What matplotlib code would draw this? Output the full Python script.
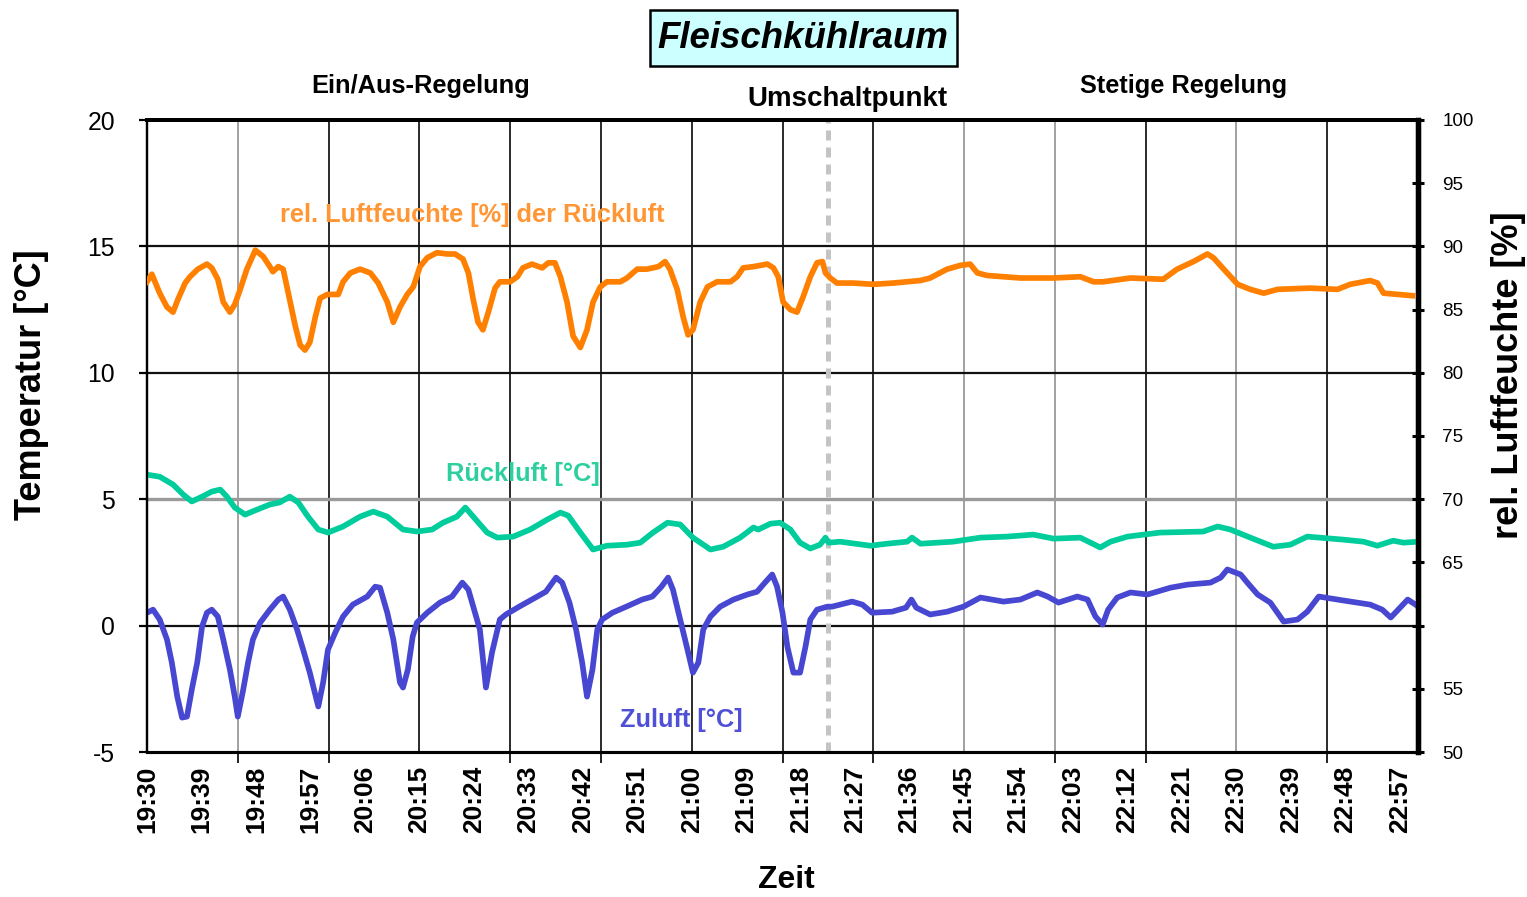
import matplotlib
matplotlib.use('Agg')
import matplotlib.pyplot as plt
from matplotlib import font_manager
from matplotlib.patches import Rectangle
from matplotlib.ticker import FixedLocator

# ---------------- data (minutes after 19:30) ----------------
time_labels = ['19:30', '19:39', '19:48', '19:57', '20:06', '20:15', '20:24', '20:33',
               '20:42', '20:51', '21:00', '21:09', '21:18', '21:27', '21:36', '21:45',
               '21:54', '22:03', '22:12', '22:21', '22:30', '22:39', '22:48', '22:57']

# relative humidity of return air [%]
rh_min = [0, 0.8, 2.1, 3.3, 4.3, 5.1, 6.3, 7.1, 8.4, 9.9,
          10.7, 11.7, 12.6, 13.7, 14.5, 15.4, 16.5, 17.9, 19.2, 20.3,
          20.8, 21.7, 22.5, 23.3, 24.5, 25.3, 26.1, 26.9, 27.8, 28.6,
          29.8, 31.6, 32.4, 33.6, 35.2, 36.9, 38.2, 39.7, 40.7, 41.8,
          43.0, 44.0, 45.1, 46.3, 47.9, 49.6, 50.9, 52.2, 53.1, 53.9,
          54.7, 55.5, 56.4, 57.5, 58.3, 60.0, 61.2, 62.1, 63.6, 65.3,
          66.3, 67.4, 68.3, 69.4, 70.4, 71.6, 72.7, 73.7, 74.9, 76.0,
          78.2, 79.3, 81.0, 82.6, 84.5, 85.6, 86.4, 87.6, 88.6, 89.4,
          90.2, 91.4, 92.6, 94.2, 96.4, 97.5, 98.5, 100.2, 102.5, 103.5,
          104.3, 105.1, 106.3, 107.4, 108.4, 109.6, 110.7, 111.6, 112.1, 112.9,
          114.0, 116.7, 120.0, 123.3, 127.8, 129.4, 132.2, 134.4, 136.0, 137.2,
          138.8, 144.3, 149.8, 154.2, 156.4, 158.0, 162.5, 167.9, 170.2, 172.9,
          175.2, 176.2, 177.9, 180.2, 182.3, 184.5, 186.8, 192.2, 196.7, 198.8,
          202.1, 203.3, 204.3, 206.6, 209.1]
rh_val = [87.2, 87.8, 86.3, 85.2, 84.8, 85.8, 87.1, 87.6, 88.2, 88.6,
          88.3, 87.4, 85.6, 84.8, 85.4, 86.6, 88.2, 89.7, 89.2, 88.4,
          88.0, 88.4, 88.2, 86.4, 83.7, 82.2, 81.8, 82.4, 84.4, 85.9,
          86.2, 86.2, 87.2, 87.9, 88.2, 87.9, 87.1, 85.6, 84.0, 85.2,
          86.2, 86.8, 88.4, 89.1, 89.5, 89.4, 89.4, 89.0, 87.9, 85.8,
          84.0, 83.4, 84.8, 86.7, 87.2, 87.2, 87.6, 88.3, 88.6, 88.3,
          88.7, 88.7, 87.6, 85.6, 82.9, 82.0, 83.4, 85.6, 86.8, 87.2,
          87.2, 87.5, 88.2, 88.2, 88.4, 88.8, 88.2, 86.6, 84.4, 83.0,
          83.4, 85.6, 86.8, 87.2, 87.2, 87.6, 88.3, 88.4, 88.6, 88.3,
          87.6, 85.6, 85.0, 84.8, 86.0, 87.6, 88.7, 88.8, 87.9, 87.5,
          87.1, 87.1, 87.0, 87.1, 87.3, 87.5, 88.2, 88.5, 88.6, 87.9,
          87.7, 87.5, 87.5, 87.6, 87.2, 87.2, 87.5, 87.4, 88.2, 88.8,
          89.4, 89.1, 88.2, 87.0, 86.6, 86.3, 86.6, 86.7, 86.6, 87.0,
          87.3, 87.1, 86.3, 86.2, 86.1]

# return air temperature [degC]
rl_min = [0, 2.1, 4.3, 6.0, 7.4, 9.1, 10.7, 12.1, 13.2, 14.5,
          16.2, 18.2, 20.3, 21.9, 23.6, 25.0, 26.6, 28.3, 29.9, 32.4,
          35.2, 37.4, 39.7, 42.3, 44.6, 47.1, 48.9, 51.2, 52.6, 53.9,
          56.2, 57.9, 60.5, 63.3, 66.1, 68.3, 69.6, 71.6, 73.7, 76.0,
          79.3, 81.5, 83.6, 86.0, 88.1, 90.2, 93.1, 95.2, 98.0, 100.2,
          101.0, 103.0, 104.6, 106.3, 107.9, 109.6, 111.2, 112.1, 112.6, 114.5,
          119.5, 122.3, 125.6, 126.4, 127.8, 133.2, 137.7, 142.1, 146.4, 149.8,
          154.2, 155.9, 157.5, 159.2, 162.0, 167.4, 174.5, 176.9, 179.0, 182.3,
          186.1, 188.9, 191.7, 197.7, 201.0, 203.3, 205.9, 207.6, 210.0]
rl_val = [5.97, 5.89, 5.58, 5.18, 4.91, 5.10, 5.30, 5.38, 5.10, 4.67,
          4.39, 4.59, 4.79, 4.87, 5.10, 4.87, 4.31, 3.80, 3.68, 3.92,
          4.31, 4.51, 4.31, 3.80, 3.72, 3.80, 4.07, 4.31, 4.67, 4.31,
          3.68, 3.48, 3.52, 3.80, 4.19, 4.47, 4.35, 3.68, 3.01, 3.16,
          3.20, 3.28, 3.68, 4.07, 4.00, 3.48, 3.01, 3.12, 3.48, 3.88,
          3.80, 4.03, 4.07, 3.80, 3.28, 3.05, 3.20, 3.48, 3.28, 3.32,
          3.16, 3.24, 3.32, 3.48, 3.24, 3.32, 3.48, 3.52, 3.60, 3.44,
          3.48, 3.28, 3.09, 3.32, 3.52, 3.68, 3.72, 3.92, 3.80, 3.48,
          3.12, 3.20, 3.52, 3.40, 3.32, 3.16, 3.36, 3.28, 3.32]

# supply air temperature [degC]
zl_min = [0, 1.0, 2.1, 3.3, 4.1, 5.0, 5.8, 6.6, 7.4, 8.3,
          9.1, 9.9, 10.7, 11.7, 12.6, 13.7, 14.5, 15.0, 15.9, 16.7,
          17.5, 18.7, 20.3, 21.7, 22.5, 23.6, 24.8, 25.8, 26.9, 28.3,
          29.1, 29.9, 31.1, 32.4, 34.0, 36.4, 37.7, 38.5, 39.7, 40.7,
          41.8, 42.3, 43.1, 43.9, 44.6, 46.3, 48.4, 50.4, 52.1, 53.1,
          53.9, 55.0, 56.0, 57.0, 58.3, 59.3, 61.5, 63.6, 65.9, 67.6,
          68.6, 69.8, 70.9, 71.9, 72.7, 73.6, 74.4, 75.2, 76.9, 79.2,
          81.8, 83.5, 85.0, 86.1, 86.9, 88.1, 89.3, 90.2, 91.1, 91.9,
          93.1, 94.7, 96.9, 99.2, 100.8, 102.1, 103.3, 104.1, 105.0, 105.8,
          106.8, 107.9, 108.8, 109.6, 110.7, 112.4, 113.2, 116.5, 118.2, 119.8,
          123.1, 125.4, 126.3, 127.1, 129.4, 132.2, 134.9, 137.7, 141.5, 144.3,
          147.1, 148.8, 150.6, 153.7, 155.4, 156.7, 157.9, 158.8, 160.3, 162.5,
          165.3, 169.1, 171.9, 175.7, 177.4, 178.5, 180.7, 181.8, 183.5, 185.6,
          187.8, 190.1, 191.7, 193.6, 196.7, 202.1, 204.1, 205.5, 208.3, 209.6,
          210.0]
zl_val = [0.51, 0.63, 0.24, -0.55, -1.46, -2.81, -3.64, -3.60, -2.53, -1.46,
          -0.04, 0.51, 0.63, 0.36, -0.55, -1.74, -2.81, -3.60, -2.53, -1.46,
          -0.55, 0.12, 0.63, 1.03, 1.15, 0.63, -0.16, -0.95, -1.86, -3.20,
          -2.25, -0.95, -0.28, 0.36, 0.83, 1.15, 1.54, 1.50, 0.51, -0.55,
          -2.25, -2.45, -1.74, -0.43, 0.12, 0.51, 0.91, 1.15, 1.70, 1.42,
          0.75, -0.16, -2.45, -1.07, 0.24, 0.44, 0.75, 1.03, 1.34, 1.90,
          1.70, 0.91, -0.16, -1.46, -2.81, -1.74, -0.16, 0.24, 0.51, 0.75,
          1.03, 1.15, 1.54, 1.90, 1.42, 0.24, -0.95, -1.86, -1.46, -0.16,
          0.36, 0.75, 1.03, 1.23, 1.34, 1.70, 2.02, 1.54, 0.51, -0.83,
          -1.86, -1.86, -0.83, 0.24, 0.63, 0.75, 0.75, 0.95, 0.83, 0.51,
          0.55, 0.71, 1.03, 0.71, 0.44, 0.55, 0.75, 1.11, 0.95, 1.03,
          1.31, 1.15, 0.91, 1.15, 1.03, 0.36, 0.04, 0.63, 1.11, 1.31,
          1.23, 1.50, 1.62, 1.70, 1.90, 2.22, 2.02, 1.70, 1.23, 0.91,
          0.16, 0.24, 0.55, 1.15, 1.03, 0.83, 0.63, 0.32, 1.03, 0.83,
          0.75]

switch_min = 112.6  # Umschaltpunkt

# ---------------- fonts ----------------
names = {f.name for f in font_manager.fontManager.ttflist}
if 'Liberation Sans Narrow' in names:
    NARROW, NF = 'Liberation Sans Narrow', 1.0
else:
    NARROW, NF = 'Liberation Sans', 0.85
WIDE = 'Liberation Sans'

# ---------------- figure ----------------
W, H = 1527, 897
fig = plt.figure(figsize=(W / 100, H / 100), dpi=100)
ax = fig.add_axes([147 / W, 1 - 752 / H, (1418 - 147) / W, (752 - 120) / H])
ax.set_xlim(0, 210)
ax.set_ylim(-5, 20)
ax2 = ax.twinx()
ax2.set_ylim(50, 100)

# grid
vgrid_colors = ['#9a9a9a', '#1a1a1a', '#1a1a1a', '#1a1a1a', '#1a1a1a', '#1a1a1a', '#1a1a1a',
                '#1a1a1a', '#9a9a9a', '#9a9a9a', '#1a1a1a', '#9a9a9a', '#1a1a1a']
for m, c in zip(range(15, 210, 15), vgrid_colors):
    ax.axvline(m, color=c, lw=1.3, zorder=1)
for yv in (15, 10, 0):
    ax.axhline(yv, color='#111111', lw=1.6, zorder=1)
ax.axhline(5, color='#9a9a9a', lw=2.4, zorder=1)

ax.axvline(switch_min, color='#c4c4c4', lw=3.6, linestyle=(0, (2.0, 1.4)), zorder=2)

# series
ax.plot(rl_min, rl_val, color='#00CC9C', lw=4.1, solid_joinstyle='round', zorder=3)
ax.plot(zl_min, zl_val, color='#4747D1', lw=4.1, solid_joinstyle='round', zorder=3)
ax2.plot(rh_min, rh_val, color='#FF8000', lw=4.1, solid_joinstyle='round', zorder=3)

# x ticks
ax.set_xticks(range(0, 208, 9))
ax.set_xticklabels(time_labels, rotation=90, fontweight='bold', fontsize=19,
                   family=WIDE, va='top')
ax.tick_params(axis='x', which='major', length=0, pad=10)
ax.xaxis.set_minor_locator(FixedLocator(list(range(15, 210, 15))))
ax.tick_params(axis='x', which='minor', length=8, width=1.4, direction='out', color='#222222')

# left y ticks
ax.set_yticks([-5, 0, 5, 10, 15, 20])
ax.set_yticklabels(['-5', '0', '5', '10', '15', '20'], family=NARROW, fontsize=21 * NF)
ax.tick_params(axis='y', length=6, width=1.6, direction='out', pad=17)

# right y ticks
r_ticks = list(range(50, 101, 5))
ax2.set_yticks(r_ticks)
ax2.set_yticklabels(['' if t == 60 else str(t) for t in r_ticks], family=NARROW, fontsize=16 * NF)
ax2.tick_params(axis='y', length=9, width=2.2, direction='inout', pad=13)

# spines
for a in (ax, ax2):
    a.spines['top'].set_linewidth(2.8)
    a.spines['right'].set_linewidth(3.8)
    a.spines['left'].set_linewidth(1.6)
    a.spines['bottom'].set_linewidth(2.2)
    for s in a.spines.values():
        s.set_color('black')

# series labels
ax.text(53.7, 16.26, 'rel. Luftfeuchte [%] der Rückluft', color='#FF9633', family=NARROW,
        fontweight='bold', fontsize=21.5 * NF, ha='center', va='center', zorder=4)
ax.text(62.1, 6.01, 'Rückluft [°C]', color='#2ECF9E', family=NARROW,
        fontweight='bold', fontsize=21.5 * NF, ha='center', va='center', zorder=4)
ax.text(88.3, -3.72, 'Zuluft [°C]', color='#5050D6', family=NARROW,
        fontweight='bold', fontsize=21.5 * NF, ha='center', va='center', zorder=4)

# headings above the plot
fig.text(421 / W, 1 - 86 / H, 'Ein/Aus-Regelung', family=NARROW, fontweight='bold',
         fontsize=21.5 * NF, ha='center', va='center')
fig.text(847 / W, 1 - 99 / H, 'Umschaltpunkt', family=NARROW, fontweight='bold',
         fontsize=23.5 * NF, ha='center', va='center')
fig.text(1184 / W, 1 - 86 / H, 'Stetige Regelung', family=NARROW, fontweight='bold',
         fontsize=21.5 * NF, ha='center', va='center')

# title box
fig.patches.append(Rectangle((650 / W, 1 - 66 / H), 307 / W, 56 / H, transform=fig.transFigure,
                             facecolor='#CCFFFF', edgecolor='black', lw=1.8))
fig.text(803 / W, 1 - 38 / H, 'Fleischkühlraum', family=NARROW, fontweight='bold',
         fontstyle='italic', fontsize=31 * NF, ha='center', va='center')

# axis labels
fig.text(32 / W, 1 - 385 / H, 'Temperatur [°C]', family=WIDE, fontweight='bold',
         fontsize=26, rotation=90, ha='center', va='center')
fig.text(1508 / W, 1 - 375 / H, 'rel. Luftfeuchte [%]', family=WIDE, fontweight='bold',
         fontsize=26, rotation=90, ha='center', va='center')
fig.text(786 / W, 1 - 880 / H, 'Zeit', family=NARROW, fontweight='bold',
         fontsize=27 * NF, ha='center', va='center')

fig.savefig('out.png', dpi=100, facecolor='white')
